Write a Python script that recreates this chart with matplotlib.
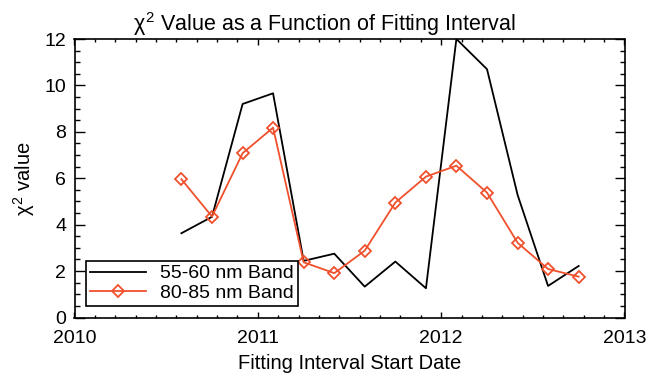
import matplotlib
matplotlib.use("Agg")
import matplotlib.pyplot as plt
from matplotlib.ticker import MultipleLocator

# Fitting interval start dates (decimal years, 2-month steps)
dates = [2010.583, 2010.750, 2010.917, 2011.083, 2011.250, 2011.417, 2011.583,
         2011.750, 2011.917, 2012.083, 2012.250, 2012.417, 2012.583, 2012.750]

chi2_55_60 = [3.63, 4.34, 9.20, 9.66, 2.44, 2.75, 1.33,
              2.41, 1.26, 12.0, 10.70, 5.28, 1.36, 2.22]
chi2_80_85 = [5.96, 4.35, 7.08, 8.18, 2.38, 1.91, 2.88,
              4.95, 6.07, 6.54, 5.38, 3.22, 2.09, 1.76]

x_ticks = [2010, 2011, 2012, 2013]
y_ticks = [0, 2, 4, 6, 8, 10, 12]

plt.rcParams['font.family'] = ['Liberation Sans', 'DejaVu Sans']
plt.rcParams['mathtext.fontset'] = 'custom'
plt.rcParams['mathtext.rm'] = 'Liberation Sans'
plt.rcParams['mathtext.it'] = 'Liberation Sans'

red = '#F0502C'

fig = plt.figure(figsize=(6.49, 3.81), dpi=100)
ax = fig.add_axes([74.5 / 649, 1 - 317.5 / 381, 550 / 649, 278.5 / 381])

ax.plot(dates, chi2_55_60, color='black', lw=1.3, label='55-60 nm Band')
ax.plot(dates, chi2_80_85, color=red, lw=1.3, marker='D', ms=6.5,
        mfc='none', mec=red, mew=1.3, label='80-85 nm Band')

ax.set_xlim(2010, 2013)
ax.set_ylim(0, 12)
ax.set_xticks(x_ticks)
ax.set_yticks(y_ticks)
ax.xaxis.set_minor_locator(MultipleLocator(1 / 9))
ax.yaxis.set_minor_locator(MultipleLocator(0.5))
ax.tick_params(which='both', direction='in', top=True, right=True, width=1.0,
               labelsize=14)
ax.tick_params(axis='x', which='major', length=4, pad=9)
ax.tick_params(axis='x', which='minor', length=2)
ax.tick_params(axis='y', which='major', length=7.5, pad=6)
ax.tick_params(axis='y', which='minor', length=3.5)
for s in ax.spines.values():
    s.set_linewidth(1.2)

ax.set_title(r'$\chi^2$ Value as a Function of Fitting Interval', fontsize=15.5,
             pad=6, x=0.4536)
ax.set_xlabel('Fitting Interval Start Date', fontsize=14.5, labelpad=5)
ax.set_ylabel(r'$\chi^2$ value', fontsize=14.5, labelpad=5)

leg = ax.legend(loc='lower left', fontsize=14, frameon=True, fancybox=False,
                edgecolor='black', framealpha=1, borderpad=0.2, handlelength=2.9,
                handletextpad=0.7, labelspacing=0.1, borderaxespad=0.6)
leg.get_frame().set_linewidth(1.2)

fig.savefig('out.png', dpi=100)
